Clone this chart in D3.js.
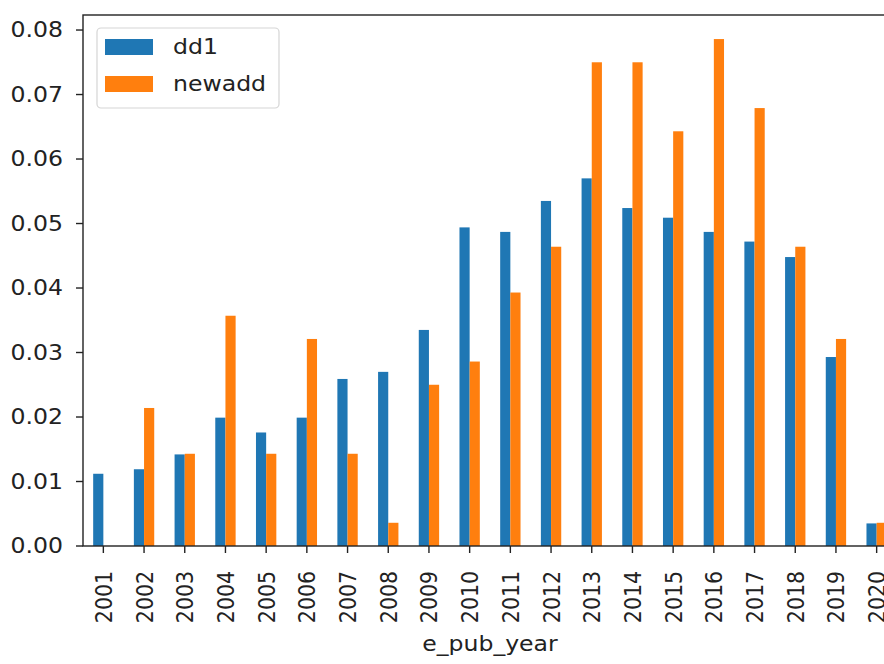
<!DOCTYPE html>
<html>
<head>
<meta charset="utf-8">
<script src="https://cdn.jsdelivr.net/npm/d3@7"></script>
<style>
  html, body { margin: 0; padding: 0; background: #fff; }
  svg { display: block; }
  text { font-family: "DejaVu Sans", sans-serif; fill: #222; }
</style>
</head>
<body>
<svg id="chart" width="884" height="664"></svg>
<script>
const categories = ["2001","2002","2003","2004","2005","2006","2007","2008","2009","2010",
                    "2011","2012","2013","2014","2015","2016","2017","2018","2019","2020"];
const dd1 =    [0.0112,0.0119,0.0142,0.0199,0.0176,0.0199,0.0259,0.0270,0.0335,0.0494,
                0.0487,0.0535,0.0570,0.0524,0.0509,0.0487,0.0472,0.0448,0.0293,0.0035];
const newadd = [0.0000,0.0214,0.0143,0.0357,0.0143,0.0321,0.0143,0.0036,0.0250,0.0286,
                0.0393,0.0464,0.0750,0.0750,0.0643,0.0786,0.0679,0.0464,0.0321,0.0036];
const seriesNames = ["dd1","newadd"];
const colors = ["#1f77b4","#ff7f0e"];
const yTicks = [0,0.01,0.02,0.03,0.04,0.05,0.06,0.07,0.08];
const xTitle = "e_pub_year";

(function () {
const FS = 20.5, SX = 1.15;
const pL = 83, pR = 897, pT = 15, pB = 546;
const svg = d3.select("#chart");

const x = d3.scaleBand().domain(categories).range([pL, pR]).paddingInner(0.5).paddingOuter(0.25);
const xs = d3.scaleBand().domain(seriesNames).range([0, x.bandwidth()]);
const y = d3.scaleLinear().domain([0, 0.08233]).range([pB, pT]);

const data = [dd1, newadd];
seriesNames.forEach((s, si) => {
  svg.append("g").selectAll("rect").data(categories).join("rect")
    .attr("x", c => x(c) + xs(s))
    .attr("y", (c, i) => y(data[si][i]))
    .attr("width", xs.bandwidth())
    .attr("height", (c, i) => y(0) - y(data[si][i]))
    .attr("fill", colors[si]);
});

// frame
svg.append("rect").attr("x", pL).attr("y", pT).attr("width", pR - pL).attr("height", pB - pT)
  .attr("fill", "none").attr("stroke", "#222").attr("stroke-width", 1.4);

// y axis
const yAxis = svg.append("g");
yTicks.forEach(t => {
  const yy = y(t);
  yAxis.append("line").attr("x1", pL - 7).attr("x2", pL).attr("y1", yy).attr("y2", yy)
    .attr("stroke", "#222").attr("stroke-width", 1.4);
  yAxis.append("text").attr("transform", `translate(${pL - 20},${yy}) scale(${SX},1)`)
    .attr("text-anchor", "end").attr("dy", "0.36em").style("font-size", FS + "px")
    .text(d3.format(".2f")(t));
});

// x axis
const xAxis = svg.append("g");
categories.forEach(c => {
  const cx = x(c) + x.bandwidth() / 2;
  xAxis.append("line").attr("x1", cx).attr("x2", cx).attr("y1", pB).attr("y2", pB + 7)
    .attr("stroke", "#222").attr("stroke-width", 1.4);
  xAxis.append("text").attr("transform", `translate(${cx},${pB + 25}) scale(${SX},1) rotate(-90)`)
    .attr("text-anchor", "end").attr("dy", "0.36em").style("font-size", FS + "px").text(c);
});

svg.append("text").attr("transform", `translate(${(pL + pR) / 2},651) scale(${SX},1)`)
  .attr("text-anchor", "middle").style("font-size", FS + "px").text(xTitle);

// legend
const lg = svg.append("g");
lg.append("rect").attr("x", 97).attr("y", 28).attr("width", 182).attr("height", 80).attr("rx", 4)
  .attr("fill", "white").attr("fill-opacity", 0.8).attr("stroke", "#d5d5d5").attr("stroke-width", 1.2);
seriesNames.forEach((s, i) => {
  const cy = 47 + i * 37;
  lg.append("rect").attr("x", 105).attr("y", cy - 8).attr("width", 48).attr("height", 16).attr("fill", colors[i]);
  lg.append("text").attr("transform", `translate(173,${cy}) scale(${SX},1)`)
    .attr("dy", "0.36em").style("font-size", FS + "px").text(s);
});
})();
</script>
</body>
</html>
